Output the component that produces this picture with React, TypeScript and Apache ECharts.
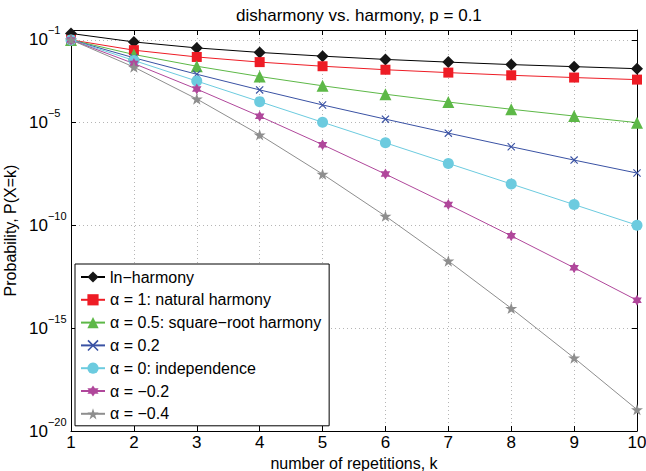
import React, { useEffect, useRef } from 'react';
import * as echarts from 'echarts';

// k = number of repetitions
const kValues = [1, 2, 3, 4, 5, 6, 7, 8, 9, 10];

// log10 of P(X = k)
const lnHarmony = [-0.69, -1.1, -1.39, -1.61, -1.79, -1.95, -2.08, -2.2, -2.3, -2.4];
const naturalHarmony = [-1.0, -1.5, -1.83, -2.08, -2.28, -2.45, -2.59, -2.72, -2.83, -2.93];
const sqrtHarmony = [-1.0, -1.71, -2.28, -2.78, -3.23, -3.64, -4.02, -4.37, -4.7, -5.02];
const alpha02 = [-1.0, -1.87, -2.67, -3.43, -4.16, -4.85, -5.53, -6.19, -6.84, -7.47];
const independence = [-1, -2, -3, -4, -5, -6, -7, -8, -9, -10];
const alphaMinus02 = [-1.0, -2.15, -3.39, -4.71, -6.09, -7.52, -9.0, -10.52, -12.07, -13.65];
const alphaMinus04 = [-1.0, -2.32, -3.87, -5.61, -7.52, -9.56, -11.74, -14.04, -16.45, -18.96];

const seriesNames = [
  'ln\u2212harmony',
  '\u03b1 = 1: natural harmony',
  '\u03b1 = 0.5: square\u2212root harmony',
  '\u03b1 = 0.2',
  '\u03b1 = 0: independence',
  '\u03b1 = \u22120.2',
  '\u03b1 = \u22120.4',
];

const yTickExponents = [-20, -15, -10, -5, -1];
const yMinExponent = -20;
const yMaxExponent = -0.52;
const xTicks = kValues;

const titleText = 'disharmony vs. harmony, p = 0.1';
const xName = 'number of repetitions, k';
const yName = 'Probability, P(X=k)';

const FONT = '"Liberation Sans", Arial, Helvetica, sans-serif';

function starPath(points: number, outer: number, inner: number): string {
  const pts: string[] = [];
  for (let i = 0; i < points * 2; i++) {
    const r = i % 2 === 0 ? outer : inner;
    const a = -Math.PI / 2 + (i * Math.PI) / points;
    pts.push(`${(r * Math.cos(a)).toFixed(3)},${(r * Math.sin(a)).toFixed(3)}`);
  }
  return 'path://M' + pts.join('L') + 'Z';
}

const PENTAGRAM = starPath(5, 10, 3.9);
const HEXAGRAM = 'path://M0,-10L8.66,5L-8.66,5ZM0,10L-8.66,-5L8.66,-5Z';
const CROSS = 'path://M-5,-4L-4,-5L0,-1L4,-5L5,-4L1,0L5,4L4,5L0,1L-4,5L-5,4L-1,0Z';

const gridLine = { show: true, lineStyle: { color: '#b5b5b5', type: [1, 3] as any, width: 1 } };

function makeSeries(name: string, values: number[], color: string, symbol: string, size: number, lineColor?: string) {
  return {
    name,
    type: 'line',
    data: values.map((v, i) => [kValues[i], v]),
    symbol,
    symbolSize: size,
    symbolKeepAspect: true,
    showSymbol: true,
    clip: false,
    silent: true,
    lineStyle: { color: lineColor ?? color, width: 1 },
    itemStyle: { color, borderWidth: 0 },
    emphasis: { disabled: true },
  };
}

export default function App() {
  const ref = useRef<HTMLDivElement>(null);

  useEffect(() => {
    if (!ref.current) return;
    const chart = echarts.init(ref.current, undefined, { renderer: 'svg' });
    const supLabel = (v: number) => `{b|10}{s|\u2212${Math.abs(Math.round(v))}}`;
    const rich = {
      b: { fontSize: 17, fontFamily: FONT, color: '#000', lineHeight: 30 },
      s: { fontSize: 11, fontFamily: FONT, color: '#000', lineHeight: 11, verticalAlign: 'top' },
    };
    const option: any = {
      animation: false,
      backgroundColor: '#fff',
      title: {
        text: titleText,
        left: 231,
        top: 2,
        textStyle: { fontSize: 17, fontWeight: 'normal', fontFamily: FONT, color: '#000' },
      },
      grid: {
        left: 71,
        right: 9,
        top: 30,
        bottom: 40,
        containLabel: false,
        outerBoundsMode: 'none',
        show: false,
      },
      legend: {
        orient: 'vertical',
        left: 75,
        top: 264,
        itemWidth: 24,
        itemHeight: 14,
        itemGap: 6.8,
        padding: [5, 8, 4, 5],
        borderColor: '#000',
        borderWidth: 1,
        backgroundColor: '#fff',
        selectedMode: false,
        textStyle: { fontSize: 16, fontFamily: FONT, color: '#000', lineHeight: 16 },
        data: seriesNames,
      },
      xAxis: [
        {
          type: 'value',
          min: 1,
          max: 10,
          interval: 1,
          position: 'bottom',
          axisLine: { show: true, onZero: false, lineStyle: { color: '#000', width: 1 } },
          axisTick: { show: true, inside: true, length: 5, lineStyle: { color: '#000' } },
          axisLabel: { fontSize: 17, fontFamily: FONT, color: '#000', margin: 3, customValues: xTicks },
          splitLine: gridLine,
          name: xName,
          nameLocation: 'middle',
          nameGap: 20,
          nameTextStyle: { fontSize: 16, fontFamily: FONT, color: '#000', verticalAlign: 'top' },
        },
        {
          type: 'value',
          min: 1,
          max: 10,
          interval: 1,
          position: 'top',
          axisLine: { show: true, onZero: false, lineStyle: { color: '#000', width: 1 } },
          axisTick: { show: true, inside: true, length: 5, lineStyle: { color: '#000' } },
          axisLabel: { show: false },
          splitLine: { show: false },
        },
      ],
      yAxis: [
        {
          type: 'value',
          min: yMinExponent,
          max: yMaxExponent,
          position: 'left',
          axisLine: { show: true, onZero: false, lineStyle: { color: '#000', width: 1 } },
          axisTick: {
            show: true,
            inside: true,
            length: 5,
            customValues: yTickExponents,
            lineStyle: { color: '#000' },
          },
          axisLabel: {
            customValues: yTickExponents,
            formatter: supLabel,
            rich,
            align: 'left',
            margin: 42,
          },
          splitLine: gridLine,
          name: yName,
          nameLocation: 'middle',
          nameGap: 47,
          nameTextStyle: { fontSize: 16, fontFamily: FONT, color: '#000' },
        },
        {
          type: 'value',
          min: yMinExponent,
          max: yMaxExponent,
          position: 'right',
          axisLine: { show: true, onZero: false, lineStyle: { color: '#000', width: 1 } },
          axisTick: {
            show: true,
            inside: true,
            length: 5,
            customValues: yTickExponents,
            lineStyle: { color: '#000' },
          },
          axisLabel: { show: false },
          splitLine: { show: false },
        },
      ],
      series: [
        makeSeries(seriesNames[0], lnHarmony, '#161616', 'diamond', 12, '#000'),
        makeSeries(seriesNames[1], naturalHarmony, '#ee1c25', 'rect', 10),
        makeSeries(seriesNames[2], sqrtHarmony, '#5db847', 'triangle', 12),
        makeSeries(seriesNames[3], alpha02, '#3a52a4', CROSS, 8),
        makeSeries(seriesNames[4], independence, '#6ccbdf', 'circle', 11),
        makeSeries(seriesNames[5], alphaMinus02, '#b0479b', HEXAGRAM, 11),
        makeSeries(seriesNames[6], alphaMinus04, '#8e8e8e', PENTAGRAM, 12),
      ],
    };
    chart.setOption(option);
    return () => chart.dispose();
  }, []);

  return <div ref={ref} style={{ width: 646, height: 471, position: 'absolute', left: 0, top: 0 }} />;
}
